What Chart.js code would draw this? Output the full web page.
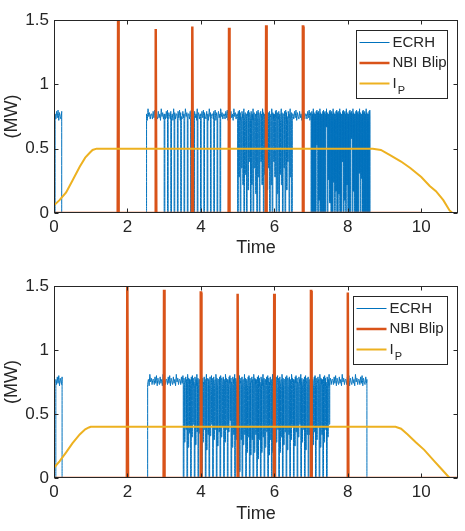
<!DOCTYPE html>
<html>
<head>
<meta charset="utf-8">
<script src="https://cdn.jsdelivr.net/npm/chart.js@4.4.1/dist/chart.umd.min.js"></script>
<style>
  html, body { margin: 0; padding: 0; background: #fff; }
  .panel { position: relative; width: 465px; }
  canvas { display: block; }
</style>
</head>
<body>
<div class="panel" style="height:265px"><canvas id="topChart"></canvas></div>
<div class="panel" style="height:266px"><canvas id="bottomChart"></canvas></div>
<script>
// ---- shared ----
const ecrhRipple = [0.77, 0.73, 0.79, 0.74, 0.80, 0.72, 0.78, 0.75, 0.73, 0.79, 0.74, 0.77, 0.72, 0.81, 0.75, 0.78, 0.73, 0.77];
const xTicks = [0, 2, 4, 6, 8, 10];
const yTicks = [0, 0.5, 1, 1.5];

// ---- upper panel ----
const ecrhTopStart = [0.03, 2.52];
const ecrhTopEnd = [0.21, 8.60];
const ecrhTopDipTime = [
  3.00, 3.09, 3.18, 3.27, 3.36, 3.45, 3.54, 3.63, 3.72, 3.81, 3.90, 3.99, 4.08, 4.17, 4.26, 4.35, 4.44, 4.52,
  5.00, 5.03, 5.07, 5.10, 5.14, 5.17, 5.21, 5.24, 5.28, 5.31, 5.35, 5.38, 5.42, 5.45, 5.49, 5.52, 5.56, 5.59,
  5.63, 5.66, 5.70, 5.73, 5.77, 5.80, 5.84, 5.87, 5.91, 5.94, 5.98, 6.01, 6.05, 6.08, 6.12, 6.15, 6.19, 6.22,
  6.26, 6.29, 6.33, 6.36, 6.40, 6.43, 6.47,
  7.00, 7.02, 7.04, 7.06, 7.08, 7.10, 7.12, 7.14, 7.16, 7.18, 7.20, 7.22, 7.24, 7.26, 7.28, 7.30, 7.32, 7.34, 7.36, 7.38,
  7.40, 7.42, 7.44, 7.46, 7.48, 7.50, 7.52, 7.54, 7.56, 7.58, 7.60, 7.62, 7.64, 7.66, 7.68, 7.70, 7.72, 7.74, 7.76, 7.78,
  7.80, 7.82, 7.84, 7.86, 7.88, 7.90, 7.92, 7.94, 7.96, 7.98, 8.00, 8.02, 8.04, 8.06, 8.08, 8.10, 8.12, 8.14, 8.16, 8.18,
  8.20, 8.22, 8.24, 8.26, 8.28, 8.30, 8.32, 8.34, 8.36, 8.38, 8.40, 8.42, 8.44, 8.46, 8.48, 8.50, 8.52, 8.54, 8.56, 8.58
];
const ecrhTopDipLevel = [
  0, 0, 0, 0, 0, 0, 0, 0, 0, 0, 0, 0, 0, 0, 0, 0, 0, 0,
  0, 0.28, 0, 0.35, 0.22, 0, 0.30, 0, 0.18, 0.40, 0, 0.22, 0, 0.35, 0.15, 0, 0.28, 0,
  0.40, 0.22, 0, 0.30, 0, 0.18, 0.35, 0, 0.22, 0, 0.40, 0.28, 0, 0.15, 0, 0.30, 0.22, 0,
  0.35, 0, 0.18, 0.40, 0, 0.28, 0,
  0, 0, 0, 0, 0, 0, 0, 0.53, 0.53, 0, 0.10, 0.10, 0, 0, 0, 0, 0, 0, 0, 0,
  0.67, 0.67, 0, 0.26, 0.26, 0.08, 0.08, 0, 0, 0, 0.24, 0.24, 0, 0.17, 0.17, 0, 0, 0.15, 0.15, 0,
  0, 0, 0.40, 0.40, 0, 0.10, 0.10, 0, 0.22, 0.22, 0, 0, 0, 0, 0.58, 0.58, 0, 0.17, 0.17, 0,
  0, 0, 0, 0, 0, 0.31, 0.31, 0, 0.27, 0.27, 0, 0, 0, 0, 0, 0, 0, 0, 0, 0
];
const nbiTopTime = [1.75, 2.77, 3.77, 4.77, 5.78, 6.78];
const nbiTopPeak = [1.60, 1.43, 1.45, 1.44, 1.46, 1.45];
const ipTopTime = [0, 0.15, 0.33, 0.50, 0.70, 0.85, 0.98, 1.05, 1.16, 8.68, 8.90, 9.15, 9.45, 9.70, 10.00, 10.23, 10.40, 10.60, 10.77, 10.85];
const ipTopValue = [0.06, 0.10, 0.16, 0.25, 0.36, 0.43, 0.47, 0.49, 0.50, 0.50, 0.49, 0.45, 0.40, 0.35, 0.28, 0.21, 0.17, 0.10, 0.02, 0];

// ---- lower panel ----
const ecrhBotStart = [0.05, 2.55];
const ecrhBotEnd = [0.22, 8.52];
const ecrhBotDipTime = [
  3.52, 3.55, 3.59, 3.62, 3.65, 3.69, 3.72, 3.75, 3.79, 3.82, 3.85, 3.89, 3.92, 3.95, 3.99,
  4.02, 4.05, 4.09, 4.12, 4.15, 4.19, 4.22, 4.25, 4.29, 4.32, 4.35, 4.39, 4.42, 4.45, 4.49,
  4.52, 4.55, 4.59, 4.62, 4.65, 4.69, 4.72, 4.75, 4.79, 4.82, 4.85, 4.89, 4.92, 4.95, 4.99,
  5.02, 5.05, 5.09, 5.12, 5.15, 5.19, 5.22, 5.25, 5.29, 5.32, 5.35, 5.39, 5.42, 5.45, 5.49,
  5.52, 5.55, 5.59, 5.62, 5.65, 5.69, 5.72, 5.75, 5.79, 5.82, 5.85, 5.89, 5.92, 5.95, 5.99,
  6.02, 6.05, 6.09, 6.12, 6.15, 6.19, 6.22, 6.25, 6.29, 6.32, 6.35, 6.39, 6.42, 6.45, 6.49,
  6.52, 6.55, 6.59, 6.62, 6.65, 6.69, 6.72, 6.75, 6.79, 6.82, 6.85, 6.89, 6.92, 6.95, 6.99,
  7.02, 7.05, 7.09, 7.12, 7.15, 7.19, 7.22, 7.25, 7.29, 7.32, 7.35, 7.39, 7.42, 7.45, 7.49
];
const ecrhBotDipLevel = [
  0, 0.28, 0.38, 0, 0.24, 0.35, 0, 0.32, 0.42, 0, 0.26, 0.36, 0, 0.35, 0.44,
  0, 0.28, 0.38, 0, 0.22, 0.34, 0, 0.33, 0.42, 0, 0.30, 0.38, 0, 0.25, 0.36,
  0, 0.32, 0.40, 0, 0.28, 0.38, 0, 0.36, 0.45, 0, 0.24, 0.34, 0, 0.30, 0.05,
  0, 0.05, 0.30, 0, 0.26, 0.34, 0, 0.20, 0.32, 0, 0.18, 0.30, 0, 0.20, 0.34,
  0, 0.15, 0.30, 0, 0.20, 0.32, 0, 0.24, 0.36, 0, 0.18, 0.30, 0, 0.20, 0.34,
  0, 0.28, 0.38, 0, 0.20, 0.32, 0, 0.26, 0.36, 0, 0.22, 0.34, 0, 0.30, 0.40,
  0, 0.25, 0.36, 0, 0.32, 0.42, 0, 0.28, 0.38, 0, 0.22, 0.34, 0, 0.34, 0.42,
  0, 0.26, 0.36, 0, 0.30, 0.40, 0, 0.24, 0.34, 0, 0.28, 0.38, 0, 0.32, 0.42
];
const nbiBotTime = [2.0, 3.0, 4.0, 5.0, 6.0, 7.0, 8.0];
const nbiBotPeak = [1.60, 1.47, 1.45, 1.44, 1.44, 1.46, 1.45];
const ipBotTime = [0, 0.15, 0.33, 0.50, 0.70, 0.85, 0.95, 1.00, 9.30, 9.45, 9.63, 9.85, 10.08, 10.36, 10.55, 10.77];
const ipBotValue = [0.08, 0.13, 0.20, 0.27, 0.34, 0.38, 0.395, 0.40, 0.40, 0.385, 0.34, 0.28, 0.22, 0.13, 0.07, 0];

const colors = { ecrh: '#0072BD', nbi: '#D95319', ip: '#EDB120', axis: '#262626' };
const FONT = "'Liberation Sans', Arial, sans-serif";
const DIP = 0.018; // dip duration in s

//#region build series

function ecrhPoints(starts, ends, dipTime, dipLevel, stop) {
    const pts = [{ x: 0, y: 0 }];
    let k = 0;
    const on = () => ecrhRipple[k++ % ecrhRipple.length];
    starts.forEach((s, i) => {
        const e = ends[i];
        const dips = dipTime.map((d, j) => [d, dipLevel[j]]).filter(d => d[0] > s && d[0] < e);
        pts.push({ x: s, y: 0 }, { x: s, y: on() });
        let t = s, j = 0;
        while (t < e) {
            if (j < dips.length && dips[j][0] <= t + 0.02) {
                const [d, lv] = dips[j++];
                pts.push({ x: d, y: on() }, { x: d, y: lv }, { x: d + DIP, y: lv }, { x: d + DIP, y: on() });
                t = d + DIP;
            } else {
                t = Math.min(t + 0.02, e);
                pts.push({ x: t, y: on() });
            }
        }
        pts.push({ x: e, y: 0 });
    });
    pts.push({ x: stop, y: 0 });
    return pts;
}

function nbiPoints(times, peaks, stop) {
    const pts = [{ x: 0, y: 0 }];
    times.forEach((t, i) => {
        pts.push({ x: t - 0.015, y: 0 }, { x: t - 0.004, y: peaks[i] }, { x: t + 0.004, y: peaks[i] }, { x: t + 0.015, y: 0 });
    });
    pts.push({ x: stop, y: 0 });
    return pts;
}

function pairs(xs, ys) {
    return xs.map((x, i) => ({ x, y: ys[i] }));
}

//#endregion

//#region frame + legend

const framePlugin = {
    id: 'frame',
    afterDraw(chart) {
        const { ctx, chartArea: a, scales: { x, y } } = chart;
        ctx.save();
        ctx.strokeStyle = colors.axis;
        ctx.lineWidth = 1;
        const L = Math.round(a.left) + 0.5, R = Math.round(a.right) - 0.5;
        const T = Math.round(a.top) + 0.5, B = Math.round(a.bottom) - 0.5;
        ctx.strokeRect(L, T, R - L, B - T);
        ctx.beginPath();
        xTicks.forEach(v => {
            const px = Math.round(x.getPixelForValue(v)) + 0.5;
            ctx.moveTo(px, B); ctx.lineTo(px, B - 4);
            ctx.moveTo(px, T); ctx.lineTo(px, T + 4);
        });
        yTicks.forEach(v => {
            const py = Math.round(y.getPixelForValue(v)) + 0.5;
            ctx.moveTo(L, py); ctx.lineTo(L + 4, py);
            ctx.moveTo(R, py); ctx.lineTo(R - 4, py);
        });
        ctx.stroke();

        // legend box
        const w = chart.options.plugins.frame.legendWidth;
        const bx = Math.round(a.right) - 11 - w + 0.5, by = Math.round(a.top) + 10 + 0.5;
        ctx.fillStyle = '#fff';
        ctx.fillRect(bx, by, w, 68);
        ctx.strokeRect(bx, by, w, 68);
        const items = [
            { c: colors.ecrh, lw: 1, t: 'ECRH' },
            { c: colors.nbi, lw: 2.5, t: 'NBI Blip' },
            { c: colors.ip, lw: 2, t: 'I', sub: 'P' }
        ];
        items.forEach((it, i) => {
            const ly = by + 12 + i * 20.5;
            ctx.strokeStyle = it.c;
            ctx.lineWidth = it.lw;
            ctx.beginPath();
            ctx.moveTo(bx + 3, ly); ctx.lineTo(bx + 33, ly);
            ctx.stroke();
            ctx.fillStyle = colors.axis;
            ctx.textBaseline = 'middle';
            ctx.font = `15px ${FONT}`;
            ctx.fillText(it.t, bx + 36, ly);
            if (it.sub) {
                const tw = ctx.measureText(it.t).width;
                ctx.font = `11px ${FONT}`;
                ctx.fillText(it.sub, bx + 36 + tw + 1, ly + 7);
            }
        });
        ctx.restore();
    }
};

//#endregion

function makeChart(id, ecrh, nbi, ip, padTop, xHeight, legendWidth) {
    return new Chart(document.getElementById(id), {
        type: 'line',
        data: {
            datasets: [
                // tiny tension keeps every vertical edge (no per-pixel merging)
                { label: 'ECRH', data: ecrh, borderColor: colors.ecrh, borderWidth: 1, tension: 1e-6, order: 3 },
                { label: 'NBI Blip', data: nbi, borderColor: colors.nbi, borderWidth: 2.5, order: 2 },
                { label: 'IP', data: ip, borderColor: colors.ip, borderWidth: 2, order: 1 }
            ]
        },
        options: {
            responsive: true,
            maintainAspectRatio: false,
            animation: false,
            events: [],
            layout: { padding: { top: padTop, right: 7, left: 0, bottom: 0 } },
            elements: { point: { radius: 0 }, line: { tension: 0 } },
            datasets: { line: { clip: 0 } },
            plugins: { legend: { display: false }, tooltip: { enabled: false }, frame: { legendWidth } },
            scales: {
                x: {
                    type: 'linear', min: 0, max: 11,
                    grid: { display: false, drawTicks: false },
                    border: { display: false },
                    afterFit: s => { s.height = xHeight; },
                    afterBuildTicks: s => { s.ticks = xTicks.map(v => ({ value: v })); },
                    ticks: { font: { family: FONT, size: 17 }, color: colors.axis, padding: 4, maxRotation: 0, callback: v => String(v) },
                    title: { display: true, text: 'Time', font: { family: FONT, size: 18 }, color: colors.axis, padding: { top: 0, bottom: 6 } }
                },
                y: {
                    min: 0, max: 1.5,
                    grid: { display: false, drawTicks: false },
                    border: { display: false },
                    afterFit: s => { s.width = 54; },
                    afterBuildTicks: s => { s.ticks = yTicks.map(v => ({ value: v })); },
                    ticks: { font: { family: FONT, size: 17 }, color: colors.axis, padding: 5, callback: v => String(v) },
                    title: { display: true, text: '(MW)', font: { family: FONT, size: 18 }, color: colors.axis, padding: { top: 1, bottom: 0 } }
                }
            }
        },
        plugins: [framePlugin]
    });
}

makeChart('topChart',
    ecrhPoints(ecrhTopStart, ecrhTopEnd, ecrhTopDipTime, ecrhTopDipLevel, 10),
    nbiPoints(nbiTopTime, nbiTopPeak, 10),
    pairs(ipTopTime, ipTopValue),
    20, 52, 91);

makeChart('bottomChart',
    ecrhPoints(ecrhBotStart, ecrhBotEnd, ecrhBotDipTime, ecrhBotDipLevel, 11),
    nbiPoints(nbiBotTime, nbiBotPeak, 11),
    pairs(ipBotTime, ipBotValue),
    21, 53, 94);
</script>
</body>
</html>
